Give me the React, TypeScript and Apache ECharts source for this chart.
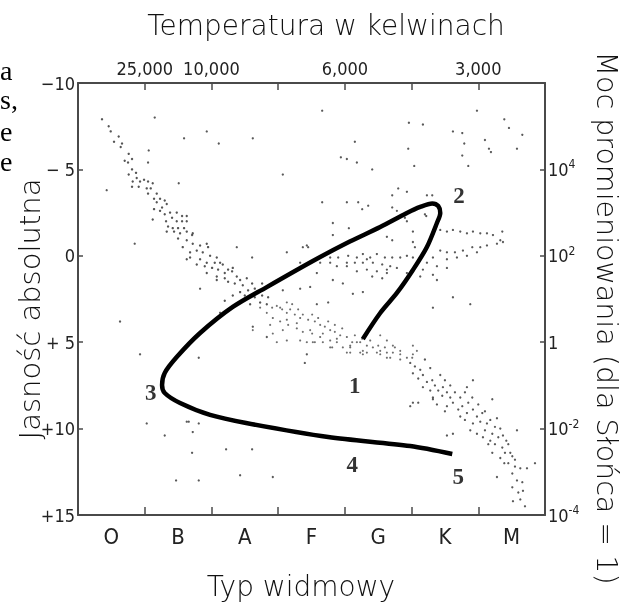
import React, { useEffect, useRef } from 'react';
import * as echarts from 'echarts';

const spectralTypes = ['O', 'B', 'A', 'F', 'G', 'K', 'M'];
const temperatureLabels = ['', '25,000', '10,000', '', '6,000', '', '3,000', ''];
const magnitudeTicks = [-10, -5, 0, 5, 10, 15];
const magnitudeLabels = ['−10', '− 5', '0', '+ 5', '+10', '+15'];
const luminosityLabels = ['', '{b|10}{s|4}', '{b|10}{s|2}', '{b|1}', '{b|10}{s|-2}', '{b|10}{s|-4}'];

// [spectral index (O=0..M=7), absolute magnitude]
const upperMainSequence = [
  [0.36,-7.9],[0.46,-7.5],[0.49,-7.2],[0.61,-6.9],[0.54,-6.6],[0.66,-6.5],[0.64,-6.3],[0.76,-5.9],[0.70,-5.5],[0.81,-5.6],[0.75,-5.4],[0.81,-5.0],[0.76,-4.7],[0.87,-4.8],[0.82,-4.3],[0.88,-4.5],[0.93,-4.3],[0.99,-4.4],[1.05,-4.3],[1.12,-4.2],[0.91,-4.0],[0.81,-4.0],[1.03,-3.9],[1.09,-3.9],[1.05,-3.6],[1.18,-3.6],[1.14,-3.3],[1.23,-3.3],[1.30,-3.2],[1.18,-3.1],[1.33,-3.0],[1.26,-2.8],[1.14,-2.7],[1.23,-2.6],[1.38,-2.5],[1.48,-2.5],[1.30,-2.4],[1.56,-2.3],[1.63,-2.3],[1.41,-2.2],[1.48,-2.0],[1.56,-2.0],[1.63,-2.0],[1.32,-2.0],[1.12,-2.1],[1.35,-1.7],[1.42,-1.6],[1.50,-1.6],[1.59,-1.6],[1.33,-1.4],[1.44,-1.4],[1.53,-1.3],[1.63,-1.4],[1.72,-1.3],
  [1.71,-1.2],[1.50,-1.0],[1.63,-0.9],[1.72,-0.7],[1.83,-0.6],[1.93,-0.7],[1.95,-0.5],[1.57,-0.5],[1.68,-0.2],[1.78,-0.3],[1.87,-0.2],[1.98,0.0],[2.08,0.1],[1.68,0.1],[1.83,0.2],[1.93,0.4],[2.05,0.4],[2.13,0.4],[1.63,0.2],[1.90,0.6],[2.01,0.7],[2.10,0.8],[2.20,1.0],[2.31,0.9],[1.93,1.0],[2.08,1.2],[2.20,1.3],[2.38,1.2],[1.78,0.5],[2.17,0.5],
  [2.25,0.8],[2.32,0.7],[2.43,1.4],[2.53,1.3],[2.61,1.6],[2.47,1.7],[2.35,1.6],[2.25,1.5],[2.08,1.4],[2.65,1.9],[2.76,1.6],[2.55,2.0],[2.43,2.1],[2.32,2.3],[2.20,2.6],[2.65,2.4],[2.73,2.7],[2.83,2.8],[2.50,2.3],[2.58,2.8],[2.76,2.3],[2.85,2.4]
];

const middleMainSequence = [
  [2.91,3.0],[2.98,2.9],[3.06,3.1],[3.13,3.3],[3.18,3.1],[3.25,3.4],[3.33,3.6],[3.37,3.4],[3.45,3.7],[3.55,3.8],[3.63,4.0],[3.70,4.1],[3.78,4.3],[3.85,4.4],[3.93,4.6],[4.03,4.7],[4.11,5.0],[4.18,5.0],[4.33,5.2],[4.42,5.3],[4.53,5.5],[4.63,5.6],[4.72,5.6],[4.83,5.7],[4.93,5.9],[5.02,5.7],[2.83,3.3],[2.92,3.6],[3.03,3.8],[3.15,4.0],[3.28,4.2],[3.07,4.3],[3.37,4.4],[3.51,4.5],[3.63,4.7],[3.78,4.9],[3.88,5.0],[3.97,5.3],[4.08,5.3],[4.23,5.6],[3.13,2.7],[2.73,3.0],[2.88,4.0],[3.33,4.9],[3.43,5.0],[3.55,5.0],[2.92,4.5],[2.62,4.3],[2.98,5.0],[3.13,4.9],[3.67,5.0],[3.81,5.3],[4.08,5.6],[4.33,5.6],[4.53,5.7],[4.63,5.9],[4.83,6.0],[3.03,3.0],[3.13,3.7],[3.28,3.9],[3.48,4.3],[3.67,4.5],[3.88,4.8],[4.08,5.2],[4.27,5.5],[4.48,5.6],[4.68,5.9],[3.52,5.0],[3.78,5.3],[4.03,5.6],[4.27,5.7],[4.23,5.0],[3.21,2.8],[3.30,3.1],[3.51,3.4],[3.60,3.6],[3.75,3.8],[3.85,4.0],[3.96,4.2],[4.15,4.6],[4.26,4.8],[4.38,4.9],[4.50,5.2],[4.60,5.3],[4.75,5.3],[4.53,4.6],[4.63,4.9],[4.72,5.2],[4.83,5.5],[5.01,5.9],[5.02,5.2],[5.08,5.5]
];

const lowerMainSequence = [
  [4.98,6.2],[5.05,6.4],[5.13,6.6],[5.02,6.8],[5.10,7.1],[5.17,6.9],[5.23,7.3],[5.31,7.2],[5.35,7.5],[5.17,7.6],[5.28,7.8],[5.40,7.8],[5.47,7.6],[5.53,7.9],[5.46,8.1],[5.32,8.2],[5.58,8.2],[5.65,7.9],[5.73,8.2],[5.80,7.9],[5.62,8.5],[5.53,8.7],[5.76,8.7],[5.85,8.5],[5.92,8.9],[5.83,9.1],[5.73,9.3],[5.98,9.3],[6.06,9.1],[6.03,9.6],[5.92,9.7],[6.13,9.7],[6.10,10.1],[5.98,10.3],[6.21,10.3],[6.25,9.9],[6.07,10.5],[6.18,10.7],[6.30,10.5],[6.37,10.4],[6.25,10.9],[6.36,11.1],[6.45,10.9],[6.40,11.4],[6.51,11.6],[6.33,11.7],[6.45,12.0],[6.55,12.2],[6.63,12.3],[6.51,12.6],[6.58,13.0],[6.66,13.1],[6.51,13.4],[6.60,13.7],[6.67,13.6],[6.52,14.2],[6.63,14.1],[6.70,14.5],[5.32,8.3],[5.38,8.6],[5.50,9.0],[5.02,8.5],[4.98,8.7],[6.21,8.3],[6.58,10.1],[6.85,12.0],[6.73,12.3],[6.28,12.8],[5.83,7.6],[5.92,7.2],[5.80,9.5],[5.88,10.1],[5.10,8.5],[6.39,12.0],[5.20,6.0],[5.28,6.5],[5.43,6.9],[5.50,7.2],[5.58,7.5],[5.70,8.9],[5.91,8.2],[6.00,8.6],[6.10,9.0],[6.18,9.5],[6.28,9.4],[6.33,10.0],[6.42,10.7],[6.48,11.4],[6.55,11.8],[6.21,11.4],[6.15,10.9]
];

const giants = [
  [3.43,-0.6],[3.60,0.1],[3.63,0.4],[3.78,0.4],[3.90,0.1],[4.05,0.0],[4.18,0.1],[4.27,-0.1],[4.38,0.1],[4.48,-0.1],[4.60,0.1],[4.71,0.1],[4.83,0.1],[4.93,0.0],[5.02,0.1],[4.15,0.4],[4.27,0.4],[4.42,0.4],[4.56,0.5],[4.68,0.6],[4.03,0.6],[4.33,0.8],[4.48,0.9],[4.63,1.0],[4.18,0.9],[4.41,1.2],[4.56,1.3],[3.82,1.4],[3.97,1.6],[4.12,2.2],[4.27,2.1],[3.58,1.0],[3.75,2.7],[3.58,2.8],[3.13,-0.2],[3.48,1.8],[3.33,1.9],[3.07,2.0],[2.61,0.1],[2.38,-0.5],[3.82,-1.2],[4.63,-1.1],[4.71,-0.9],[5.02,-0.8],[5.05,-0.5],[5.43,-1.5],[5.53,-1.4],[5.62,-1.5],[5.73,-1.4],[5.83,-1.3],[5.92,-1.4],[6.03,-1.3],[6.13,-1.3],[6.22,-1.2],[6.33,-0.9],[6.37,-0.8],[6.28,-0.7],[6.13,-0.6],[6.03,-0.5],[5.91,-0.5],[5.77,-0.3],[5.65,-0.2],[5.53,-0.2],[5.43,-0.3],[5.32,0.1],[5.53,0.2],[5.68,0.1],[5.83,0.0],[5.98,-0.2],[5.23,0.4],[5.38,0.6],[5.53,0.7],[5.17,0.8],[5.32,1.1],[5.38,1.4],[5.13,1.2],[4.93,1.0],[4.78,0.7],[4.63,0.8],[4.33,0.2],[4.03,0.4],[3.88,0.6],[5.62,2.4],[5.32,3.0],[5.88,2.8],[6.36,-1.4],[3.45,-0.5],[3.33,0.4],[3.78,0.1],[3.37,-0.5]
];

const supergiantsAndField = [
  [4.80,-3.9],[4.93,-3.7],[5.23,-3.5],[5.31,-3.5],[4.71,-2.8],[4.78,-2.6],[4.93,-2.0],[5.20,-2.4],[3.82,-1.9],[4.26,-2.7],[4.03,-3.1],[4.20,-3.1],[4.35,-2.9],[3.66,-3.1],[1.15,-8.0],[1.59,-6.8],[1.93,-7.2],[2.11,-6.5],[2.62,-6.8],[1.06,-6.1],[1.05,-5.4],[1.51,-4.2],[0.43,-3.8],[3.07,-4.7],[3.66,-8.4],[4.15,-6.6],[3.94,-5.7],[4.03,-5.6],[4.18,-5.4],[4.41,-5.0],[4.96,-7.7],[5.17,-7.6],[4.95,-6.2],[5.04,-5.2],[5.62,-7.2],[5.76,-7.1],[5.79,-6.5],[5.98,-8.4],[6.10,-6.7],[6.16,-6.2],[6.19,-6.0],[5.76,-5.8],[5.85,-5.2],[6.39,-7.9],[6.46,-7.4],[6.66,-7.0],[6.58,-6.2],[4.71,-3.5],[4.90,-2.2],[5.22,-2.3],[4.06,-1.6],[5.02,-1.4],[0.85,-0.7],[0.63,3.8],[0.93,5.7],[1.83,1.9],[1.81,5.9],[3.43,5.7],[3.40,6.2],[2.13,3.3],[2.62,4.1],[2.83,4.7],[5.53,10.4],[5.62,10.3]
];

const whiteDwarfs = [
  [1.03,9.7],[1.30,10.4],[1.63,9.6],[1.66,9.6],[1.81,9.7],[1.72,10.2],[1.71,11.4],[2.22,11.2],[2.61,11.2],[1.47,13.0],[1.81,13.0],[2.43,12.7],[2.92,12.8]
];

const evolutionTrack = [
  [4.27,4.81],[4.53,3.31],[4.78,2.15],[5.02,0.82],[5.23,-0.51],[5.38,-1.90],[5.43,-2.48],[5.40,-2.88],[5.31,-3.03],[5.13,-2.83],[4.93,-2.48],[4.53,-1.67],[4.03,-0.74],[3.52,0.30],[2.83,1.81],[2.32,2.96],[1.83,4.47],[1.48,5.86],[1.30,6.78],[1.26,7.48],[1.30,7.94],[1.53,8.52],[1.98,9.21],[2.52,9.68],[3.75,10.49],[4.98,11.01],[5.61,11.47]
];

const stageLabels = [
  [4.15, 7.5, '1'], [5.71, -3.5, '2'], [1.09, 7.9, '3'], [4.11, 12.1, '4'], [5.70, 12.8, '5']
];

const sideText = ['a', 's,', 'e', 'e'];

const AXIS_COLOR = '#4a4a4a';
const TEXT_COLOR = '#222';
const NARROW = '"Liberation Sans Narrow", "DejaVu Sans Condensed", sans-serif';
const TITLE_FONT = '"DejaVu Sans", sans-serif';

function starSeries(data: number[][], color: string, size: number) {
  return {
    type: 'scatter',
    xAxisIndex: 1,
    yAxisIndex: 0,
    data,
    symbol: 'circle',
    symbolSize: size,
    itemStyle: { color },
    silent: true,
    z: 2,
  };
}

export default function App() {
  const ref = useRef<HTMLDivElement>(null);

  useEffect(() => {
    if (!ref.current) return;
    const chart = echarts.init(ref.current, undefined, { renderer: 'svg' });
    const axisLine = { show: true, onZero: false, lineStyle: { color: AXIS_COLOR, width: 2 } };

    const option = {
      animation: false,
      grid: { left: 78, right: 87, top: 83, bottom: 90 },
      xAxis: [
        {
          type: 'category',
          data: spectralTypes,
          position: 'bottom',
          boundaryGap: true,
          axisLine,
          axisTick: { show: true, inside: true, length: 8, alignWithLabel: false, lineStyle: { color: AXIS_COLOR, width: 1.5 } },
          axisLabel: { fontFamily: NARROW, fontSize: 22, color: TEXT_COLOR, margin: 10 },
          splitLine: { show: false },
        },
        {
          type: 'value',
          position: 'top',
          min: 0,
          max: 7,
          interval: 1,
          axisLine,
          axisTick: { show: true, inside: true, length: 7, lineStyle: { color: AXIS_COLOR, width: 1.5 } },
          axisLabel: {
            fontFamily: NARROW, fontSize: 18, color: TEXT_COLOR, margin: 6,
            formatter: (v: number) => temperatureLabels[Math.round(v)] || '',
          },
          splitLine: { show: false },
        },
      ],
      yAxis: [
        {
          type: 'value',
          position: 'left',
          inverse: true,
          min: -10,
          max: 15,
          interval: 5,
          axisLine,
          axisTick: { show: true, inside: true, length: 5, lineStyle: { color: AXIS_COLOR, width: 1.5 } },
          axisLabel: {
            fontFamily: NARROW, fontSize: 18, color: TEXT_COLOR, margin: 3,
            formatter: (v: number) => {
              const i = magnitudeTicks.indexOf(Math.round(v));
              return i >= 0 ? magnitudeLabels[i] : '';
            },
          },
          splitLine: { show: false },
        },
        {
          type: 'value',
          position: 'right',
          inverse: true,
          min: -10,
          max: 15,
          interval: 5,
          axisLine,
          axisTick: { show: true, inside: true, length: 5, lineStyle: { color: AXIS_COLOR, width: 1.5 } },
          axisLabel: {
            margin: 3,
            color: TEXT_COLOR,
            formatter: (v: number) => {
              const i = magnitudeTicks.indexOf(Math.round(v));
              return i >= 0 ? luminosityLabels[i] : '';
            },
            rich: {
              b: { fontFamily: NARROW, fontSize: 18, color: TEXT_COLOR, lineHeight: 22, verticalAlign: 'middle' },
              s: { fontFamily: NARROW, fontSize: 12, color: TEXT_COLOR, lineHeight: 12, verticalAlign: 'top' },
            },
          },
          splitLine: { show: false },
        },
      ],
      series: [
        starSeries(upperMainSequence, '#2a2a2a', 2.4),
        starSeries(middleMainSequence, '#4a4a4a', 2.1),
        starSeries(lowerMainSequence, '#2f2f2f', 2.3),
        starSeries(giants, '#2f2f2f', 2.3),
        starSeries(supergiantsAndField, '#2f2f2f', 2.3),
        starSeries(whiteDwarfs, '#2f2f2f', 2.3),
        {
          type: 'line',
          xAxisIndex: 1,
          yAxisIndex: 0,
          data: evolutionTrack,
          smooth: 0.3,
          symbol: 'none',
          lineStyle: { color: '#000', width: 4.5 },
          silent: true,
          z: 5,
        },
        {
          type: 'scatter',
          xAxisIndex: 1,
          yAxisIndex: 0,
          data: stageLabels.map((d) => ({ value: [d[0], d[1]], name: d[2] })),
          symbolSize: 1,
          itemStyle: { color: 'rgba(0,0,0,0)' },
          silent: true,
          z: 6,
          label: {
            show: true,
            position: 'inside',
            formatter: (p: any) => p.name,
            fontFamily: '"Liberation Serif", "Times New Roman", serif',
            fontWeight: 'bold',
            fontSize: 23,
            color: '#000',
          },
        },
      ],
      graphic: [
        {
          type: 'text', x: 326, y: 25,
          style: { text: 'Temperatura w kelwinach', fontFamily: TITLE_FONT, fontWeight: 200, fontSize: 28, fill: '#111', align: 'center', verticalAlign: 'middle', textAlign: 'center', textVerticalAlign: 'middle' },
        },
        {
          type: 'text', x: 301, y: 586,
          style: { text: 'Typ widmowy', fontFamily: TITLE_FONT, fontWeight: 200, fontSize: 28, fill: '#111', align: 'center', verticalAlign: 'middle', textAlign: 'center', textVerticalAlign: 'middle' },
        },
        {
          type: 'text', x: 30, y: 309, rotation: Math.PI / 2,
          style: { text: 'Jasność absolutna', fontFamily: TITLE_FONT, fontWeight: 200, fontSize: 29, fill: '#111', align: 'center', verticalAlign: 'middle', textAlign: 'center', textVerticalAlign: 'middle' },
        },
        {
          type: 'text', x: 606, y: 318, rotation: -Math.PI / 2,
          style: { text: 'Moc promieniowania (dla Słońca = 1)', fontFamily: TITLE_FONT, fontWeight: 200, fontSize: 28.5, fill: '#111', align: 'center', verticalAlign: 'middle', textAlign: 'center', textVerticalAlign: 'middle' },
        },
        ...sideText.map((t, i) => ({
          type: 'text', x: 0, y: [70, 99, 131, 161][i],
          style: { text: t, fontFamily: '"Liberation Serif", serif', fontSize: 28, lineHeight: 24, fill: '#000', align: 'left', verticalAlign: 'middle', textAlign: 'left', textVerticalAlign: 'middle' },
        })),
      ],
    };

    chart.setOption(option as any);
    return () => chart.dispose();
  }, []);

  return <div ref={ref} style={{ position: 'fixed', left: 0, top: 0, width: 632, height: 605 }} />;
}
